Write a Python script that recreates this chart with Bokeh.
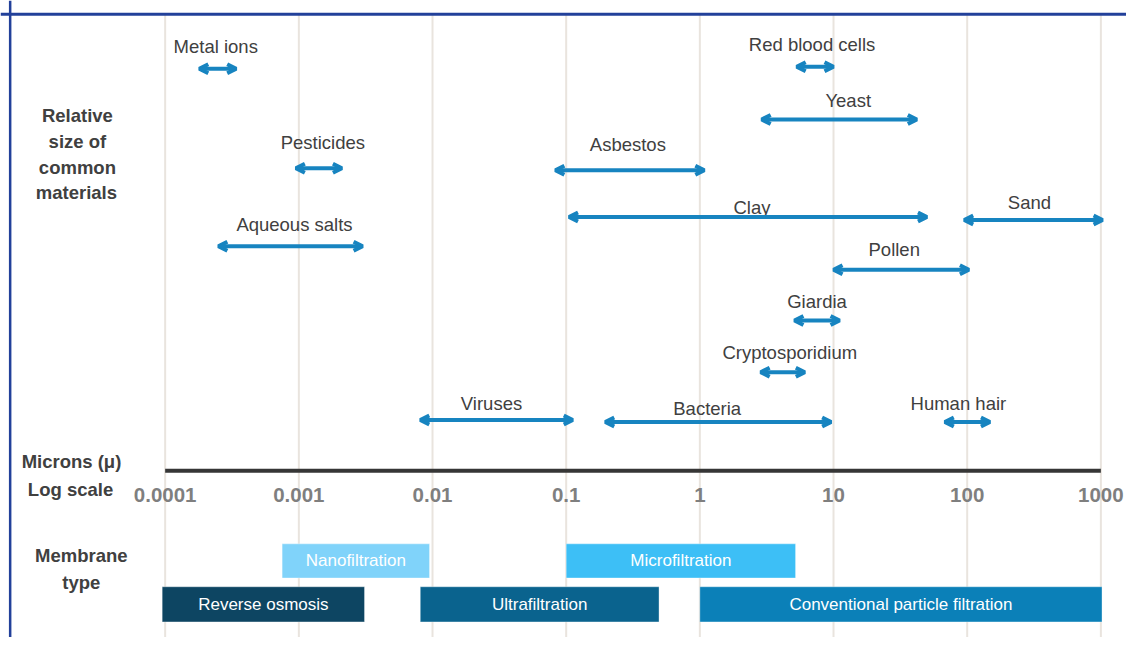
import math
from bokeh.plotting import figure
from bokeh.models import Range1d, ColumnDataSource, Arrow, OpenHead, Span
from bokeh.core.properties import value
from bokeh.embed import file_html
from bokeh.resources import INLINE

# ---------------- data ----------------
materials = ["Metal ions", "Pesticides", "Aqueous salts", "Red blood cells", "Yeast",
             "Asbestos", "Clay", "Sand", "Pollen", "Giardia", "Cryptosporidium",
             "Viruses", "Bacteria", "Human hair"]
size_min = [0.00018, 0.00095, 0.00025, 5.3, 2.9, 0.083, 0.105, 95, 10, 5.1, 2.85, 0.0081, 0.196, 68]
size_max = [0.00034, 0.0021, 0.003, 10, 42, 1.08, 50, 1030, 103, 11.1, 6.1, 0.112, 9.6, 148]

membranes = ["Nanofiltration", "Microfiltration", "Reverse osmosis", "Ultrafiltration",
             "Conventional particle filtration"]
mem_min = [0.00075, 0.1, 0.000095, 0.0081, 1.0]
mem_max = [0.0095, 5.2, 0.0031, 0.495, 1020]

tick_values = [0.0001, 0.001, 0.01, 0.1, 1, 10, 100, 1000]
tick_labels = ["0.0001", "0.001", "0.01", "0.1", "1", "10", "100", "1000"]

# ---------------- layout / style ----------------
arrow_y = [70, 172, 252, 68, 122, 174, 222, 225, 276, 328, 381, 430, 432, 432]
label_y = [47, 146, 230, 45, 102, 148, 212, 207, 255, 309, 361, 413, 418, 413]
label_dx = [-2, 4, 4, -3, 9, -2, 4, -4, -7, 0, 7, -5, -11, -9]

mem_top = [557, 557, 601, 601, 601]
mem_bottom = [592, 592, 637, 637, 637]
mem_colors = ["#80d3fa", "#3dbff6", "#0d4562", "#0a638e", "#0b80b8"]

ARROW_C = "#1784c0"
FONT = "Liberation Sans"
W, H = 1126, 637          # figure size
REF_W, REF_H = 1142, 653  # reference picture space mapped onto the figure
PPD = 135.57              # reference pixels per decade
LOG_LO = -4 - 167 / PPD
LOG_HI = 3 + (REF_W - 1116) / PPD


def px_x(px):
    return 10 ** (LOG_LO + px / PPD)


p = figure(width=W, height=H, x_axis_type="log",
           x_range=Range1d(10 ** LOG_LO, 10 ** LOG_HI), y_range=Range1d(REF_H, 0),
           min_border=0, toolbar_location=None, output_backend="svg", title=None)
p.axis.visible = False
p.grid.visible = False
p.outline_line_color = None
p.background_fill_color = "white"
p.border_fill_color = "white"

# grid lines
p.segment(x0=tick_values, x1=tick_values, y0=[14] * len(tick_values), y1=[REF_H] * len(tick_values),
          line_color="#e9e4de", line_width=2)

# border (top, left)
p.add_layout(Span(location=14, dimension="width", line_color="#22409a", line_width=3))
p.add_layout(Span(location=px_x(9.8), dimension="height", line_color="#22409a", line_width=2.5))

# membrane bars
msrc = ColumnDataSource(dict(
    left=mem_min, right=mem_max, top=mem_top, bottom=mem_bottom, color=mem_colors,
    name=membranes,
    xm=[math.sqrt(a * b) for a, b in zip(mem_min, mem_max)],
    ym=[(a + b) / 2 for a, b in zip(mem_top, mem_bottom)],
))
p.quad(left="left", right="right", top="top", bottom="bottom", fill_color="color",
       line_color="white", line_alpha=0.35, line_width=1, source=msrc)
p.text(x="xm", y="ym", text="name", source=msrc, text_color="white",
       text_font=value(FONT), text_font_size="17px", text_align="center",
       text_baseline="middle")

# axis line + tick labels
p.segment(x0=[tick_values[0]], x1=[tick_values[-1]], y0=[482], y1=[482],
          line_color="#363636", line_width=4)
p.text(x=tick_values, y=[507] * len(tick_values), text=tick_labels,
       text_color="#7f7f7f", text_font=value(FONT), text_font_style="bold",
       text_font_size="20.5px", text_align="center", text_baseline="middle")

# arrows
asrc = ColumnDataSource(dict(
    x0=size_min, x1=size_max, y=arrow_y, ly=label_y, dx=label_dx, name=materials,
    xm=[math.sqrt(a * b) for a, b in zip(size_min, size_max)],
))
p.add_layout(Arrow(start=OpenHead(size=9, line_width=4, line_color=ARROW_C),
                   end=OpenHead(size=9, line_width=4, line_color=ARROW_C),
                   x_start="x0", y_start="y", x_end="x1", y_end="y",
                   line_color=ARROW_C, line_width=4, source=asrc))
p.text(x="xm", y="ly", text="name", x_offset="dx", source=asrc, text_color="#404040",
       text_font=value(FONT), text_font_size="18.5px", text_align="center",
       text_baseline="middle")

# left side labels
left_lines = ["Relative", "size of", "common", "materials", "Microns (\u03bc)", "Log scale",
              "Membrane", "type"]
left_px = [78, 78, 78, 77, 72, 71, 82, 82]
left_py = [118, 145, 171, 197, 473, 501, 569, 597]
p.text(x=[px_x(v) for v in left_px], y=left_py, text=left_lines, text_color="#404040",
       text_font=value(FONT), text_font_style="bold", text_font_size="18.5px",
       text_align="center", text_baseline="middle")

open("out.html", "w").write(file_html(p, INLINE))
